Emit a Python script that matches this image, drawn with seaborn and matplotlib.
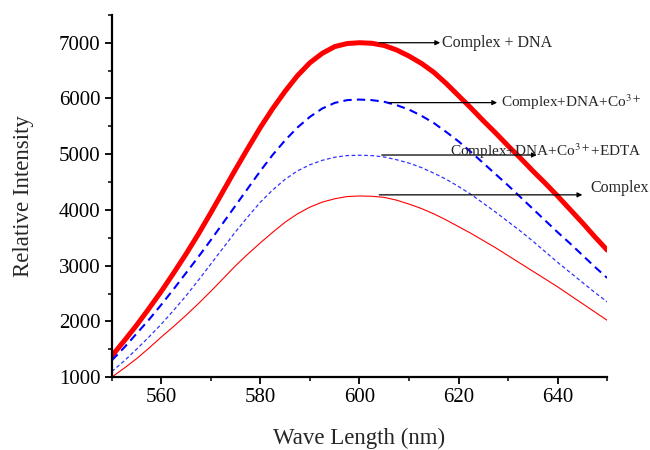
import numpy as np
import pandas as pd
import seaborn as sns
import matplotlib
matplotlib.use("Agg")
import matplotlib.pyplot as plt
from matplotlib.ticker import MultipleLocator

# wavelength grid (nm) and read-off intensities
wavelength = [550, 552.5, 555, 557.5, 560, 562.5, 565, 567.5, 570, 572.5, 575,
              577.5, 580, 582.5, 585, 587.5, 590, 592.5, 595, 597.5, 600,
              602.5, 605, 607.5, 610, 612.5, 615, 617.5, 620, 622.5, 625,
              627.5, 630, 632.5, 635, 637.5, 640, 642.5, 645, 647.5, 650]
complex_dna = [1380, 1650, 1930, 2230, 2540, 2870, 3210, 3570, 3950, 4340, 4730,
               5110, 5480, 5820, 6130, 6410, 6640, 6810, 6930, 6985, 7000,
               6990, 6950, 6870, 6760, 6630, 6470, 6270, 6050, 5830, 5600,
               5380, 5150, 4930, 4700, 4480, 4250, 4010, 3770, 3520, 3280]
complex_dna_co = [1300, 1530, 1780, 2030, 2300, 2580, 2870, 3160, 3460, 3770, 4080,
                  4390, 4700, 4990, 5250, 5480, 5670, 5820, 5920, 5970, 5980,
                  5970, 5940, 5880, 5800, 5690, 5560, 5400, 5230, 5040, 4840,
                  4640, 4440, 4230, 4020, 3810, 3600, 3400, 3190, 2980, 2780]
complex_dna_co_edta = [1100, 1290, 1500, 1720, 1950, 2200, 2460, 2740, 3030, 3320, 3610,
                       3880, 4140, 4360, 4550, 4700, 4810, 4890, 4945, 4975, 4980,
                       4975, 4950, 4900, 4840, 4760, 4660, 4550, 4420, 4280, 4120,
                       3960, 3790, 3620, 3440, 3250, 3060, 2880, 2700, 2520, 2350]
complex_only = [1000, 1160, 1330, 1520, 1720, 1910, 2110, 2320, 2540, 2770, 3000,
                3210, 3410, 3600, 3780, 3930, 4050, 4140, 4200, 4240, 4250,
                4245, 4225, 4175, 4105, 4025, 3930, 3820, 3700, 3580, 3450,
                3320, 3180, 3040, 2900, 2760, 2620, 2470, 2320, 2170, 2020]

labels = ["Complex + DNA", "Complex+DNA+Co$^{3+}$",
          "Complex+DNA+Co$^{3+}$+EDTA", "Complex"]

df = pd.DataFrame({"wl": wavelength, "c_dna": complex_dna, "c_dna_co": complex_dna_co,
                   "c_dna_co_edta": complex_dna_co_edta, "c": complex_only})

sns.set_theme(style="ticks")
plt.rcParams["font.family"] = ["Liberation Serif", "DejaVu Serif"]
plt.rcParams["mathtext.fontset"] = "stix"

fig = plt.figure(figsize=(6.5, 4.5), dpi=100)
ax = fig.add_axes([0.172, 0.162, 0.762, 0.805])

sns.lineplot(data=df, x="wl", y="c_dna", ax=ax, color="#ff0000", linewidth=3.6)
sns.lineplot(data=df, x="wl", y="c_dna_co", ax=ax, color="#0000ff", linewidth=1.5,
             linestyle=(0, (4, 2.5)))
sns.lineplot(data=df, x="wl", y="c_dna_co_edta", ax=ax, color="#3333ff", linewidth=0.9,
             linestyle=(0, (3, 2)))
sns.lineplot(data=df, x="wl", y="c", ax=ax, color="#ff0000", linewidth=0.8)

# arrows + labels
arrow_kw = dict(arrowstyle="-|>", color="black", lw=0.9, mutation_scale=7,
                shrinkA=0, shrinkB=0)
ax.annotate("", xy=(616.3, 7000), xytext=(604.0, 7000), arrowprops=arrow_kw)
ax.text(616.6, 7000, labels[0], fontsize=11.5, va="center", ha="left")
ax.annotate("", xy=(627.8, 5925), xytext=(606.0, 5925), arrowprops=arrow_kw)
ax.text(628.5, 5925, labels[1], fontsize=11, va="center", ha="left")
ax.annotate("", xy=(635.8, 4985), xytext=(604.5, 4985), arrowprops=arrow_kw)
ax.text(618.3, 5060, labels[2], fontsize=11, va="center", ha="left")
ax.annotate("", xy=(645.0, 4270), xytext=(604.0, 4270), arrowprops=arrow_kw)
ax.text(646.6, 4400, labels[3], fontsize=11.5, va="center", ha="left")

ax.set_xlim(550, 650)
ax.set_ylim(1000, 7500)
ax.xaxis.set_major_locator(MultipleLocator(20))
ax.xaxis.set_minor_locator(MultipleLocator(10))
ax.yaxis.set_major_locator(MultipleLocator(1000))
ax.yaxis.set_minor_locator(MultipleLocator(500))
ax.set_xticks([560, 580, 600, 620, 640])
ax.tick_params(which="major", direction="out", length=5, width=1.3, labelsize=15,
               colors="black", pad=3)
ax.tick_params(which="minor", direction="out", length=3, width=1.1, colors="black")
for side in ["left", "bottom"]:
    ax.spines[side].set_linewidth(1.6)
    ax.spines[side].set_color("black")
sns.despine(ax=ax)

ax.set_xlabel("Wave Length (nm)", fontsize=16.5, labelpad=15)
ax.set_ylabel("Relative Intensity", fontsize=16.5, labelpad=18)

fig.savefig("out.png", dpi=100)
